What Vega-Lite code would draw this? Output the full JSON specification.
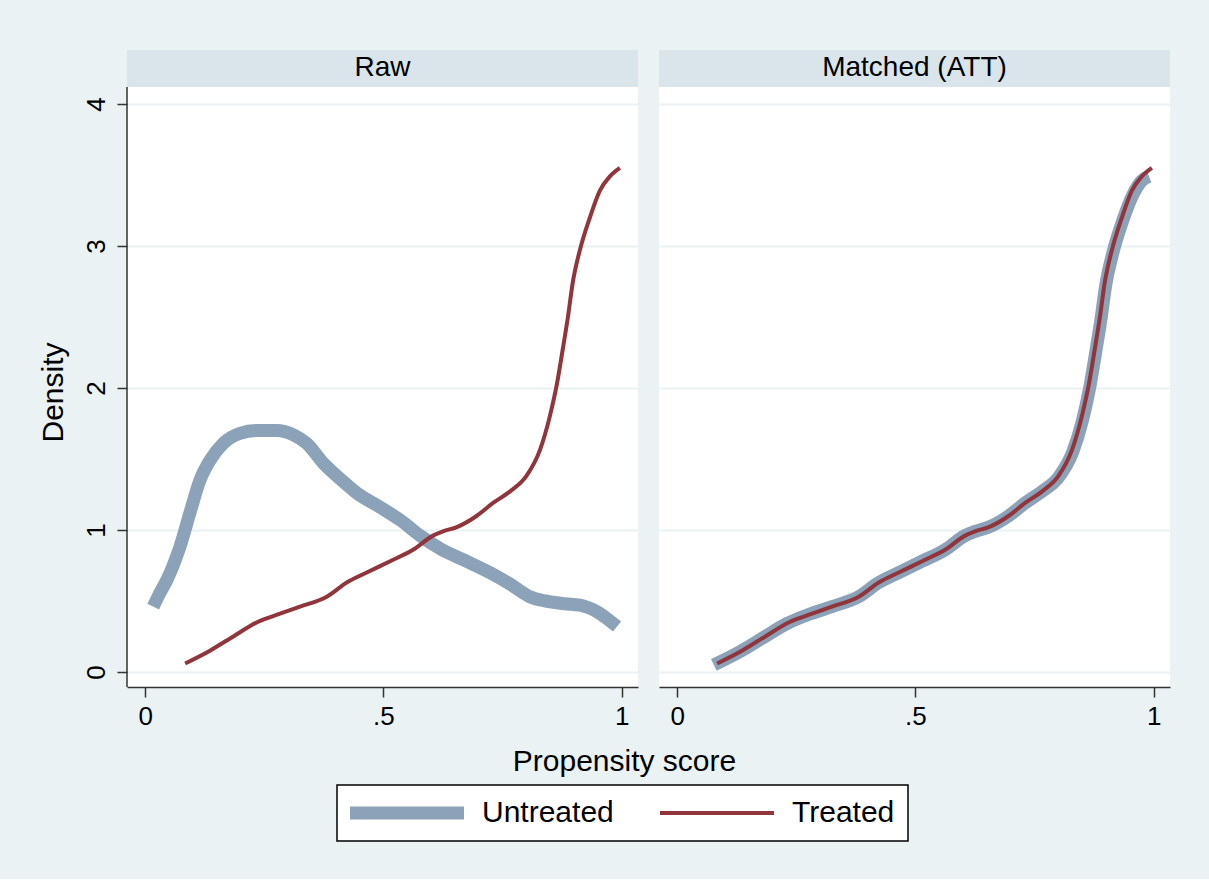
{
  "$schema": "https://vega.github.io/schema/vega-lite/v6.json",
  "background": "#EAF2F3",
  "padding": {"left": 38, "top": 50, "right": 39, "bottom": 37},
  "bounds": "flush",
  "datasets": {
    "rows": [
      {"panel": "Raw", "kind": "header"},
      {"panel": "Matched (ATT)", "kind": "header"},
      {"panel": "Raw", "kind": "yaxis"},
      {"panel": "Raw", "kind": "curve", "group": "Untreated", "x": 0.017, "y": 0.46},
      {"panel": "Raw", "kind": "curve", "group": "Untreated", "x": 0.03, "y": 0.55},
      {"panel": "Raw", "kind": "curve", "group": "Untreated", "x": 0.046, "y": 0.65},
      {"panel": "Raw", "kind": "curve", "group": "Untreated", "x": 0.06, "y": 0.76},
      {"panel": "Raw", "kind": "curve", "group": "Untreated", "x": 0.073, "y": 0.88},
      {"panel": "Raw", "kind": "curve", "group": "Untreated", "x": 0.094, "y": 1.12},
      {"panel": "Raw", "kind": "curve", "group": "Untreated", "x": 0.115, "y": 1.35},
      {"panel": "Raw", "kind": "curve", "group": "Untreated", "x": 0.136, "y": 1.49},
      {"panel": "Raw", "kind": "curve", "group": "Untreated", "x": 0.164, "y": 1.61},
      {"panel": "Raw", "kind": "curve", "group": "Untreated", "x": 0.199, "y": 1.68},
      {"panel": "Raw", "kind": "curve", "group": "Untreated", "x": 0.234, "y": 1.70},
      {"panel": "Raw", "kind": "curve", "group": "Untreated", "x": 0.276, "y": 1.70},
      {"panel": "Raw", "kind": "curve", "group": "Untreated", "x": 0.311, "y": 1.67},
      {"panel": "Raw", "kind": "curve", "group": "Untreated", "x": 0.339, "y": 1.61},
      {"panel": "Raw", "kind": "curve", "group": "Untreated", "x": 0.374, "y": 1.47},
      {"panel": "Raw", "kind": "curve", "group": "Untreated", "x": 0.409, "y": 1.36},
      {"panel": "Raw", "kind": "curve", "group": "Untreated", "x": 0.444, "y": 1.26},
      {"panel": "Raw", "kind": "curve", "group": "Untreated", "x": 0.493, "y": 1.16},
      {"panel": "Raw", "kind": "curve", "group": "Untreated", "x": 0.535, "y": 1.07},
      {"panel": "Raw", "kind": "curve", "group": "Untreated", "x": 0.577, "y": 0.96},
      {"panel": "Raw", "kind": "curve", "group": "Untreated", "x": 0.618, "y": 0.87},
      {"panel": "Raw", "kind": "curve", "group": "Untreated", "x": 0.674, "y": 0.78},
      {"panel": "Raw", "kind": "curve", "group": "Untreated", "x": 0.723, "y": 0.70},
      {"panel": "Raw", "kind": "curve", "group": "Untreated", "x": 0.765, "y": 0.62},
      {"panel": "Raw", "kind": "curve", "group": "Untreated", "x": 0.807, "y": 0.53},
      {"panel": "Raw", "kind": "curve", "group": "Untreated", "x": 0.839, "y": 0.50},
      {"panel": "Raw", "kind": "curve", "group": "Untreated", "x": 0.88, "y": 0.48},
      {"panel": "Raw", "kind": "curve", "group": "Untreated", "x": 0.912, "y": 0.47},
      {"panel": "Raw", "kind": "curve", "group": "Untreated", "x": 0.95, "y": 0.42},
      {"panel": "Raw", "kind": "curve", "group": "Untreated", "x": 0.975, "y": 0.36},
      {"panel": "Raw", "kind": "curve", "group": "Untreated", "x": 0.99, "y": 0.32},
      {"panel": "Matched (ATT)", "kind": "curve", "group": "Untreated", "x": 0.077, "y": 0.05},
      {"panel": "Matched (ATT)", "kind": "curve", "group": "Untreated", "x": 0.13, "y": 0.14},
      {"panel": "Matched (ATT)", "kind": "curve", "group": "Untreated", "x": 0.18, "y": 0.24},
      {"panel": "Matched (ATT)", "kind": "curve", "group": "Untreated", "x": 0.23, "y": 0.34},
      {"panel": "Matched (ATT)", "kind": "curve", "group": "Untreated", "x": 0.28, "y": 0.41},
      {"panel": "Matched (ATT)", "kind": "curve", "group": "Untreated", "x": 0.325, "y": 0.46},
      {"panel": "Matched (ATT)", "kind": "curve", "group": "Untreated", "x": 0.381, "y": 0.53},
      {"panel": "Matched (ATT)", "kind": "curve", "group": "Untreated", "x": 0.423, "y": 0.63},
      {"panel": "Matched (ATT)", "kind": "curve", "group": "Untreated", "x": 0.465, "y": 0.70},
      {"panel": "Matched (ATT)", "kind": "curve", "group": "Untreated", "x": 0.514, "y": 0.78},
      {"panel": "Matched (ATT)", "kind": "curve", "group": "Untreated", "x": 0.562, "y": 0.86},
      {"panel": "Matched (ATT)", "kind": "curve", "group": "Untreated", "x": 0.604, "y": 0.96},
      {"panel": "Matched (ATT)", "kind": "curve", "group": "Untreated", "x": 0.625, "y": 0.99},
      {"panel": "Matched (ATT)", "kind": "curve", "group": "Untreated", "x": 0.654, "y": 1.02},
      {"panel": "Matched (ATT)", "kind": "curve", "group": "Untreated", "x": 0.696, "y": 1.10},
      {"panel": "Matched (ATT)", "kind": "curve", "group": "Untreated", "x": 0.73, "y": 1.19},
      {"panel": "Matched (ATT)", "kind": "curve", "group": "Untreated", "x": 0.765, "y": 1.27},
      {"panel": "Matched (ATT)", "kind": "curve", "group": "Untreated", "x": 0.80, "y": 1.37},
      {"panel": "Matched (ATT)", "kind": "curve", "group": "Untreated", "x": 0.83, "y": 1.55},
      {"panel": "Matched (ATT)", "kind": "curve", "group": "Untreated", "x": 0.851, "y": 1.78},
      {"panel": "Matched (ATT)", "kind": "curve", "group": "Untreated", "x": 0.866, "y": 2.01},
      {"panel": "Matched (ATT)", "kind": "curve", "group": "Untreated", "x": 0.878, "y": 2.25},
      {"panel": "Matched (ATT)", "kind": "curve", "group": "Untreated", "x": 0.889, "y": 2.48},
      {"panel": "Matched (ATT)", "kind": "curve", "group": "Untreated", "x": 0.899, "y": 2.72},
      {"panel": "Matched (ATT)", "kind": "curve", "group": "Untreated", "x": 0.914, "y": 2.95},
      {"panel": "Matched (ATT)", "kind": "curve", "group": "Untreated", "x": 0.935, "y": 3.18},
      {"panel": "Matched (ATT)", "kind": "curve", "group": "Untreated", "x": 0.956, "y": 3.36},
      {"panel": "Matched (ATT)", "kind": "curve", "group": "Untreated", "x": 0.975, "y": 3.46},
      {"panel": "Matched (ATT)", "kind": "curve", "group": "Untreated", "x": 0.99, "y": 3.49},
      {"panel": "Raw", "kind": "curve", "group": "Treated", "x": 0.084, "y": 0.06},
      {"panel": "Raw", "kind": "curve", "group": "Treated", "x": 0.136, "y": 0.15},
      {"panel": "Raw", "kind": "curve", "group": "Treated", "x": 0.185, "y": 0.25},
      {"panel": "Raw", "kind": "curve", "group": "Treated", "x": 0.235, "y": 0.35},
      {"panel": "Raw", "kind": "curve", "group": "Treated", "x": 0.283, "y": 0.41},
      {"panel": "Raw", "kind": "curve", "group": "Treated", "x": 0.325, "y": 0.46},
      {"panel": "Raw", "kind": "curve", "group": "Treated", "x": 0.381, "y": 0.53},
      {"panel": "Raw", "kind": "curve", "group": "Treated", "x": 0.423, "y": 0.63},
      {"panel": "Raw", "kind": "curve", "group": "Treated", "x": 0.465, "y": 0.70},
      {"panel": "Raw", "kind": "curve", "group": "Treated", "x": 0.514, "y": 0.78},
      {"panel": "Raw", "kind": "curve", "group": "Treated", "x": 0.562, "y": 0.86},
      {"panel": "Raw", "kind": "curve", "group": "Treated", "x": 0.604, "y": 0.96},
      {"panel": "Raw", "kind": "curve", "group": "Treated", "x": 0.625, "y": 0.99},
      {"panel": "Raw", "kind": "curve", "group": "Treated", "x": 0.654, "y": 1.02},
      {"panel": "Raw", "kind": "curve", "group": "Treated", "x": 0.696, "y": 1.10},
      {"panel": "Raw", "kind": "curve", "group": "Treated", "x": 0.73, "y": 1.19},
      {"panel": "Raw", "kind": "curve", "group": "Treated", "x": 0.765, "y": 1.27},
      {"panel": "Raw", "kind": "curve", "group": "Treated", "x": 0.80, "y": 1.38},
      {"panel": "Raw", "kind": "curve", "group": "Treated", "x": 0.828, "y": 1.56},
      {"panel": "Raw", "kind": "curve", "group": "Treated", "x": 0.849, "y": 1.80},
      {"panel": "Raw", "kind": "curve", "group": "Treated", "x": 0.864, "y": 2.03},
      {"panel": "Raw", "kind": "curve", "group": "Treated", "x": 0.876, "y": 2.27},
      {"panel": "Raw", "kind": "curve", "group": "Treated", "x": 0.887, "y": 2.50},
      {"panel": "Raw", "kind": "curve", "group": "Treated", "x": 0.897, "y": 2.74},
      {"panel": "Raw", "kind": "curve", "group": "Treated", "x": 0.912, "y": 2.97},
      {"panel": "Raw", "kind": "curve", "group": "Treated", "x": 0.933, "y": 3.20},
      {"panel": "Raw", "kind": "curve", "group": "Treated", "x": 0.954, "y": 3.39},
      {"panel": "Raw", "kind": "curve", "group": "Treated", "x": 0.975, "y": 3.49},
      {"panel": "Raw", "kind": "curve", "group": "Treated", "x": 0.996, "y": 3.55},
      {"panel": "Matched (ATT)", "kind": "curve", "group": "Treated", "x": 0.084, "y": 0.06},
      {"panel": "Matched (ATT)", "kind": "curve", "group": "Treated", "x": 0.136, "y": 0.15},
      {"panel": "Matched (ATT)", "kind": "curve", "group": "Treated", "x": 0.185, "y": 0.25},
      {"panel": "Matched (ATT)", "kind": "curve", "group": "Treated", "x": 0.235, "y": 0.35},
      {"panel": "Matched (ATT)", "kind": "curve", "group": "Treated", "x": 0.283, "y": 0.41},
      {"panel": "Matched (ATT)", "kind": "curve", "group": "Treated", "x": 0.325, "y": 0.46},
      {"panel": "Matched (ATT)", "kind": "curve", "group": "Treated", "x": 0.381, "y": 0.53},
      {"panel": "Matched (ATT)", "kind": "curve", "group": "Treated", "x": 0.423, "y": 0.63},
      {"panel": "Matched (ATT)", "kind": "curve", "group": "Treated", "x": 0.465, "y": 0.70},
      {"panel": "Matched (ATT)", "kind": "curve", "group": "Treated", "x": 0.514, "y": 0.78},
      {"panel": "Matched (ATT)", "kind": "curve", "group": "Treated", "x": 0.562, "y": 0.86},
      {"panel": "Matched (ATT)", "kind": "curve", "group": "Treated", "x": 0.604, "y": 0.96},
      {"panel": "Matched (ATT)", "kind": "curve", "group": "Treated", "x": 0.625, "y": 0.99},
      {"panel": "Matched (ATT)", "kind": "curve", "group": "Treated", "x": 0.654, "y": 1.02},
      {"panel": "Matched (ATT)", "kind": "curve", "group": "Treated", "x": 0.696, "y": 1.10},
      {"panel": "Matched (ATT)", "kind": "curve", "group": "Treated", "x": 0.73, "y": 1.19},
      {"panel": "Matched (ATT)", "kind": "curve", "group": "Treated", "x": 0.765, "y": 1.27},
      {"panel": "Matched (ATT)", "kind": "curve", "group": "Treated", "x": 0.80, "y": 1.38},
      {"panel": "Matched (ATT)", "kind": "curve", "group": "Treated", "x": 0.828, "y": 1.56},
      {"panel": "Matched (ATT)", "kind": "curve", "group": "Treated", "x": 0.849, "y": 1.80},
      {"panel": "Matched (ATT)", "kind": "curve", "group": "Treated", "x": 0.864, "y": 2.03},
      {"panel": "Matched (ATT)", "kind": "curve", "group": "Treated", "x": 0.876, "y": 2.27},
      {"panel": "Matched (ATT)", "kind": "curve", "group": "Treated", "x": 0.887, "y": 2.50},
      {"panel": "Matched (ATT)", "kind": "curve", "group": "Treated", "x": 0.897, "y": 2.74},
      {"panel": "Matched (ATT)", "kind": "curve", "group": "Treated", "x": 0.912, "y": 2.97},
      {"panel": "Matched (ATT)", "kind": "curve", "group": "Treated", "x": 0.933, "y": 3.20},
      {"panel": "Matched (ATT)", "kind": "curve", "group": "Treated", "x": 0.954, "y": 3.39},
      {"panel": "Matched (ATT)", "kind": "curve", "group": "Treated", "x": 0.975, "y": 3.49},
      {"panel": "Matched (ATT)", "kind": "curve", "group": "Treated", "x": 0.996, "y": 3.55}
    ]
  },
  "spacing": 21,
  "hconcat": [
    {
      "width": 511,
      "height": 637,
      "data": {"name": "rows"},
      "transform": [{"filter": "datum.panel === 'Raw'"}],
      "layer": [
        {
          "transform": [{"filter": "datum.kind === 'header'"}],
          "mark": {"type": "rect", "fill": "#D9E5EB"},
          "encoding": {
            "y": {"datum": 4.119, "type": "quantitative"},
            "y2": {"datum": 4.38}
          }
        },
        {
          "transform": [{"filter": "datum.kind === 'header'"}],
          "mark": {"type": "text", "fontSize": 28, "color": "black", "baseline": "middle", "align": "center"},
          "encoding": {
            "x": {"datum": 0.498, "type": "quantitative"},
            "y": {"datum": 4.25, "type": "quantitative"},
            "text": {"field": "panel"}
          }
        },
        {
          "transform": [{"filter": "datum.kind === 'yaxis'"}],
          "mark": {"type": "rule", "color": "#333333", "strokeWidth": 1.5},
          "encoding": {
            "x": {"datum": -0.038, "type": "quantitative"},
            "y": {"datum": -0.106, "type": "quantitative"},
            "y2": {"datum": 4.119}
          }
        },
        {
          "transform": [{"filter": "datum.kind === 'curve'"}],
          "mark": {"type": "line", "interpolate": "monotone", "strokeCap": "butt"},
          "encoding": {
            "x": {
              "field": "x", "type": "quantitative",
              "scale": {"domain": [-0.038, 1.034], "nice": false, "zero": false},
              "axis": {
                "title": "Propensity score",
                "titleX": 497,
                "titleAlign": "center",
                "titlePadding": 17,
                "values": [0, 0.5, 1],
                "labelExpr": "datum.value === 0.5 ? '.5' : format(datum.value, 'd')",
                "grid": false,
                "labelPadding": 6
              }
            },
            "y": {
              "field": "y", "type": "quantitative",
              "scale": {"domain": [-0.106, 4.38], "nice": false, "zero": false},
              "axis": {
                "title": "Density",
                "titleY": 342,
                "values": [0, 1, 2, 3, 4],
                "format": "d",
                "labelAngle": -90,
                "domain": false,
                "grid": true,
                "labelPadding": 8,
                "titlePadding": 15
              }
            },
            "color": {
              "field": "group", "type": "nominal",
              "scale": {"domain": ["Untreated", "Treated"], "range": ["#8CA2B8", "#90353B"]},
              "legend": {
                "title": null,
                "orient": "none",
                "legendX": 210,
                "legendY": 735,
                "encode": {
                  "symbols": {"update": {"size": {"value": 4}, "shape": {"value": "M-15,0H99"}, "y": {"value": 15}, "strokeJoin": {"value": "round"}}},
                  "labels": {"update": {"y": {"value": 15}, "baseline": {"value": "middle"}, "fontSize": {"value": 30}}}
                }
              }
            },
            "strokeWidth": {
              "field": "group", "type": "nominal",
              "scale": {"domain": ["Untreated", "Treated"], "range": [13, 4]},
              "legend": {
                "title": null,
                "orient": "none",
                "legendX": 210,
                "legendY": 735,
                "encode": {
                  "symbols": {"update": {"size": {"value": 4}, "shape": {"value": "M-15,0H99"}, "y": {"value": 15}, "strokeJoin": {"value": "round"}}},
                  "labels": {"update": {"y": {"value": 15}, "baseline": {"value": "middle"}, "fontSize": {"value": 30}}}
                }
              }
            }
          }
        }
      ]
    },
    {
      "width": 511,
      "height": 637,
      "data": {"name": "rows"},
      "transform": [{"filter": "datum.panel === 'Matched (ATT)'"}],
      "layer": [
        {
          "transform": [{"filter": "datum.kind === 'header'"}],
          "mark": {"type": "rect", "fill": "#D9E5EB"},
          "encoding": {
            "y": {"datum": 4.119, "type": "quantitative"},
            "y2": {"datum": 4.38}
          }
        },
        {
          "transform": [{"filter": "datum.kind === 'header'"}],
          "mark": {"type": "text", "fontSize": 28, "color": "black", "baseline": "middle", "align": "center"},
          "encoding": {
            "x": {"datum": 0.498, "type": "quantitative"},
            "y": {"datum": 4.25, "type": "quantitative"},
            "text": {"field": "panel"}
          }
        },
        {
          "transform": [{"filter": "datum.kind === 'curve'"}],
          "mark": {"type": "line", "interpolate": "monotone", "strokeCap": "butt"},
          "encoding": {
            "x": {
              "field": "x", "type": "quantitative",
              "scale": {"domain": [-0.038, 1.034], "nice": false, "zero": false},
              "axis": {
                "title": null,
                "values": [0, 0.5, 1],
                "labelExpr": "datum.value === 0.5 ? '.5' : format(datum.value, 'd')",
                "grid": false,
                "labelPadding": 6
              }
            },
            "y": {
              "field": "y", "type": "quantitative",
              "scale": {"domain": [-0.106, 4.38], "nice": false, "zero": false},
              "axis": {
                "title": null,
                "values": [0, 1, 2, 3, 4],
                "labels": false,
                "ticks": false,
                "domain": false,
                "grid": true
              }
            },
            "color": {
              "field": "group", "type": "nominal",
              "scale": {"domain": ["Untreated", "Treated"], "range": ["#8CA2B8", "#90353B"]}
            },
            "strokeWidth": {
              "field": "group", "type": "nominal",
              "scale": {"domain": ["Untreated", "Treated"], "range": [13, 4]}
            }
          }
        }
      ]
    }
  ],
  "config": {
    "font": "Liberation Sans",
    "view": {"fill": "white", "stroke": null},
    "style": {"guide-label": {"fontSize": 30}},
    "axis": {
      "labelFontSize": 26,
      "labelColor": "black",
      "titleFontSize": 30,
      "titleFontWeight": "normal",
      "titleColor": "black",
      "tickColor": "#333333",
      "tickSize": 10,
      "tickWidth": 1.5,
      "domainColor": "#333333",
      "domainWidth": 1.5,
      "gridColor": "#EAF2F3",
      "gridWidth": 2
    },
    "legend": {
      "direction": "horizontal",
      "fillColor": "white",
      "strokeColor": "black",
      "strokeWidth": 1.5,
      "padding": 13,
      "labelFontSize": 30,
      "labelColor": "black",
      "labelOffset": 102,
      "columnPadding": 44,
      "symbolType": "M-15,0H99",
      "symbolSize": 4,
      "symbolOpacity": 1
    }
  }
}
